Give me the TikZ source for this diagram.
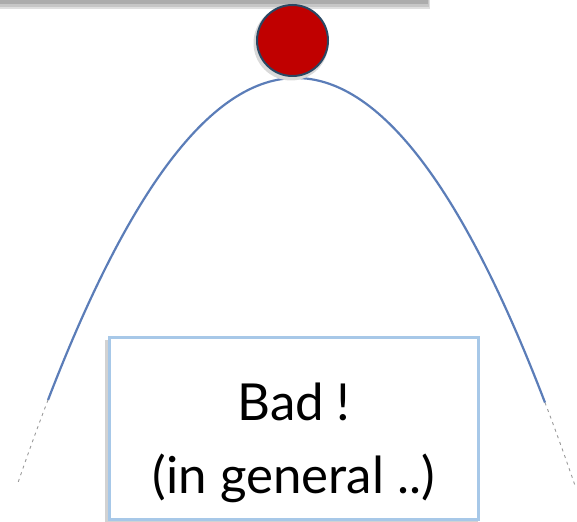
\documentclass[tikz,border=0pt]{standalone}
\usepackage{fontspec}
\setmainfont{Lato}
\definecolor{curveblue}{HTML}{5B7DB8}
\definecolor{ballred}{HTML}{C00000}
\definecolor{balledge}{HTML}{2A4763}
\definecolor{boxedge}{HTML}{A7C8E8}
\tikzset{
  curve/.style={draw=curveblue, line width=2.2pt},
  curveext/.style={draw=gray!80, line width=0.9pt, dash pattern=on 3pt off 4pt},
  ball/.style={circle, fill=ballred, draw=balledge, line width=2pt, minimum size=71pt, inner sep=0pt},
  notebox/.style={draw=boxedge, line width=3.5pt, fill=white, minimum width=369pt, minimum height=182pt, inner sep=0pt},
  notetext/.style={font=\fontsize{51}{60}\selectfont, anchor=base, text=black}
}
\begin{document}
\begin{tikzpicture}[x=1pt,y=-1pt]
\useasboundingbox (0,0) rectangle (577,521);
% top bar with shadow
\fill[gray!25] (0,0) rectangle (430,9);
\fill[gray!45] (0,0) rectangle (429,7);
\fill[gray!65] (0,0) rectangle (428,4);
% parabola
\draw[curve] plot[domain=-248:249, samples=120] ({296+\x},{78+322*(\x/248)*(\x/248)});
\draw[curveext] plot[domain=-248:-278, samples=10] ({296+\x},{78+322*(\x/248)*(\x/248)});
\draw[curveext] plot[domain=249:279, samples=10] ({296+\x},{78+322*(\x/248)*(\x/248)});
% ball
\fill[gray!30] (291,43) circle (37.5pt);
\node[ball] (ball) at (292.5,40.5) {};
% box
\fill[gray!35] (105,340) rectangle (478,522);
\node[notebox] (box) at (294,428.5) {};
\node[notetext] (t1) at (294,420) {Bad !};
\node[notetext] (t2) at (294,493) {(in general ..)};
\end{tikzpicture}
\end{document}
